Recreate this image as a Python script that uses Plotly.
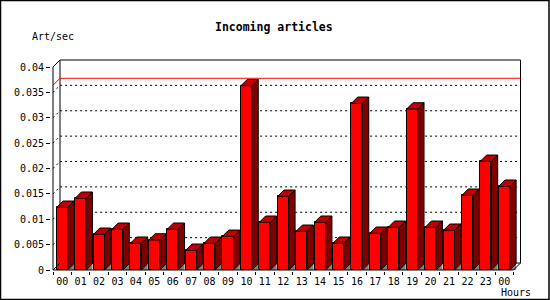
import plotly.graph_objects as go

# ---- data ----
hours = ["00", "01", "02", "03", "04", "05", "06", "07", "08", "09", "10", "11",
         "12", "13", "14", "15", "16", "17", "18", "19", "20", "21", "22", "23", "00"]
art_per_sec = [0.01235, 0.01413, 0.00703, 0.00802, 0.00526, 0.00591, 0.00802, 0.00388,
               0.00526, 0.00663, 0.0363, 0.0094, 0.01452, 0.00762, 0.0094, 0.00526,
               0.03284, 0.00723, 0.00841, 0.03172, 0.00841, 0.00782, 0.01472, 0.02141,
               0.01649]
y_ticks = [0, 0.005, 0.01, 0.015, 0.02, 0.025, 0.03, 0.035, 0.04]
y_tick_text = ["0", "0.005", "0.01", "0.015", "0.02", "0.025", "0.03", "0.035", "0.04"]
grid_vals = [0.005, 0.01, 0.015, 0.02, 0.025, 0.03, 0.035]
ref_line = 0.0364
y_max = 0.04

# ---- layout geometry (pixels) ----
W, H = 550, 300
PX_X = 18.42          # px per category slot
PX_Y = 203 / 0.04     # px per unit
ORG_X, ORG_Y = 53, 270  # pixel of front origin (-0.5, 0)
L, R, T, B = 51, 27, 58, 29
pw, ph = W - L - R, H - T - B
x_range = [-0.5 - (ORG_X - L) / PX_X, -0.5 + (W - R - ORG_X) / PX_X]
y_range = [-(T + ph - ORG_Y) / PX_Y, (ORG_Y - T) / PX_Y]

DX, DY = 7 / PX_X, 7 / PX_Y          # plane depth
BDX, BDY = 6.3 / PX_X, 6.3 / PX_Y    # bar depth
HW = 0.3                              # half bar width

n = len(art_per_sec)
xs = list(range(n))
x_lo, x_hi = -0.5, n - 0.5


def px2paper(px, py):
    return (px - L) / pw, (H - B - py) / ph


fig = go.Figure()

# floor shadows
gx, gy = [], []
for i, v in zip(xs, art_per_sec):
    gx += [i + HW, i + HW + BDX, i + HW + BDX, i + HW, None]
    gy += [0, BDY, 0, 0, None]
fig.add_trace(go.Scatter(x=gx, y=gy, fill="toself", fillcolor="#808080",
                         line=dict(width=0, color="#808080"), mode="lines",
                         hoverinfo="skip", showlegend=False))

# front faces
fig.add_trace(go.Bar(x=xs, y=art_per_sec, width=2 * HW, marker=dict(color="#FF0000",
                     line=dict(color="black", width=1)), showlegend=False))

# side faces
sx, sy = [], []
for i, v in zip(xs, art_per_sec):
    sx += [i + HW, i + HW + BDX, i + HW + BDX, i + HW, i + HW, None]
    sy += [0, BDY, v + BDY, v, 0, None]
fig.add_trace(go.Scatter(x=sx, y=sy, fill="toself", fillcolor="#800000",
                         line=dict(width=1, color="black"), mode="lines",
                         hoverinfo="skip", showlegend=False))

# top faces
tx, ty = [], []
for i, v in zip(xs, art_per_sec):
    tx += [i - HW, i + HW, i + HW + BDX, i - HW + BDX, i - HW, None]
    ty += [v, v, v + BDY, v + BDY, v, None]
fig.add_trace(go.Scatter(x=tx, y=ty, fill="toself", fillcolor="#C00000",
                         line=dict(width=1, color="black"), mode="lines",
                         hoverinfo="skip", showlegend=False))

shapes = []
# back plane
shapes.append(dict(type="rect", xref="x", yref="y", x0=x_lo + DX, x1=x_hi + DX,
                   y0=DY, y1=y_max + DY, line=dict(color="black", width=1),
                   fillcolor="white", layer="below"))
# grid lines (dotted) on back plane plus depth connector
for g in grid_vals:
    shapes.append(dict(type="path", xref="x", yref="y",
                       path=f"M{x_lo},{g} L{x_lo + DX},{g + DY} L{x_hi + DX},{g + DY}",
                       line=dict(color="black", width=1, dash="2px,3px"), layer="below"))
# red reference line
shapes.append(dict(type="path", xref="x", yref="y",
                   path=f"M{x_lo},{ref_line} L{x_lo + DX},{ref_line + DY} L{x_hi + DX},{ref_line + DY}",
                   line=dict(color="red", width=1), layer="below"))
# front axes and connectors
shapes.append(dict(type="path", xref="x", yref="y",
                   path=f"M{x_lo},{y_max} L{x_lo},0 L{x_hi},0",
                   line=dict(color="black", width=1), layer="above"))
for (a, b) in [((x_lo, y_max), (x_lo + DX, y_max + DY)), ((x_lo, 0), (x_lo + DX, DY)),
               ((x_hi, 0), (x_hi + DX, DY))]:
    shapes.append(dict(type="line", xref="x", yref="y", x0=a[0], y0=a[1], x1=b[0], y1=b[1],
                       line=dict(color="black", width=1), layer="above"))
# outer image frame
fx0, fy0 = px2paper(0.5, 299.5)
fx1, fy1 = px2paper(549, 0.5)
shapes.append(dict(type="rect", xref="paper", yref="paper", x0=fx0, x1=fx1, y0=fy0, y1=fy1,
                   line=dict(color="black", width=1.5), fillcolor="rgba(0,0,0,0)"))

font = dict(family="DejaVu Sans Mono", size=10, color="black")
annots = []
tx_, ty_ = px2paper(274, 27)
annots.append(dict(text="<b>Incoming articles</b>", x=tx_, y=ty_, xref="paper", yref="paper",
                   showarrow=False, font=dict(family="DejaVu Sans Mono", size=11.5, color="black"),
                   xanchor="center", yanchor="middle"))
ax_, ay_ = px2paper(30, 37)
annots.append(dict(text="Art/sec", x=ax_, y=ay_, xref="paper", yref="paper", showarrow=False,
                   font=font, xanchor="left", yanchor="middle"))
hx_, hy_ = px2paper(533, 292)
annots.append(dict(text="Hours", x=hx_, y=hy_, xref="paper", yref="paper", showarrow=False,
                   font=font, xanchor="right", yanchor="middle"))

fig.update_layout(
    width=W, height=H, margin=dict(l=L, r=R, t=T, b=B, pad=0),
    paper_bgcolor="white", plot_bgcolor="white",
    shapes=shapes, annotations=annots, showlegend=False, bargap=0,
    xaxis=dict(range=x_range, tickvals=xs, ticktext=hours, ticks="outside", ticklen=1,
               tickcolor="rgba(0,0,0,0)", showgrid=False, zeroline=False, showline=False,
               tickfont=font, fixedrange=True),
    xaxis2=dict(range=x_range, overlaying="x", anchor="y", side="bottom",
                tickvals=[k - 0.5 for k in range(n + 1)], ticks="outside", ticklen=3,
                tickcolor="black", showticklabels=False, showgrid=False, zeroline=False,
                showline=False),
    yaxis=dict(range=y_range, tickvals=y_ticks, ticktext=y_tick_text, ticks="outside",
               ticklen=4, tickcolor="black", showgrid=False, zeroline=False, showline=False,
               tickfont=font, fixedrange=True),
)
# invisible trace to activate xaxis2
fig.add_trace(go.Scatter(x=[x_lo], y=[0], xaxis="x2", mode="markers",
                         marker=dict(opacity=0), hoverinfo="skip", showlegend=False))

fig.write_html("out.html")
